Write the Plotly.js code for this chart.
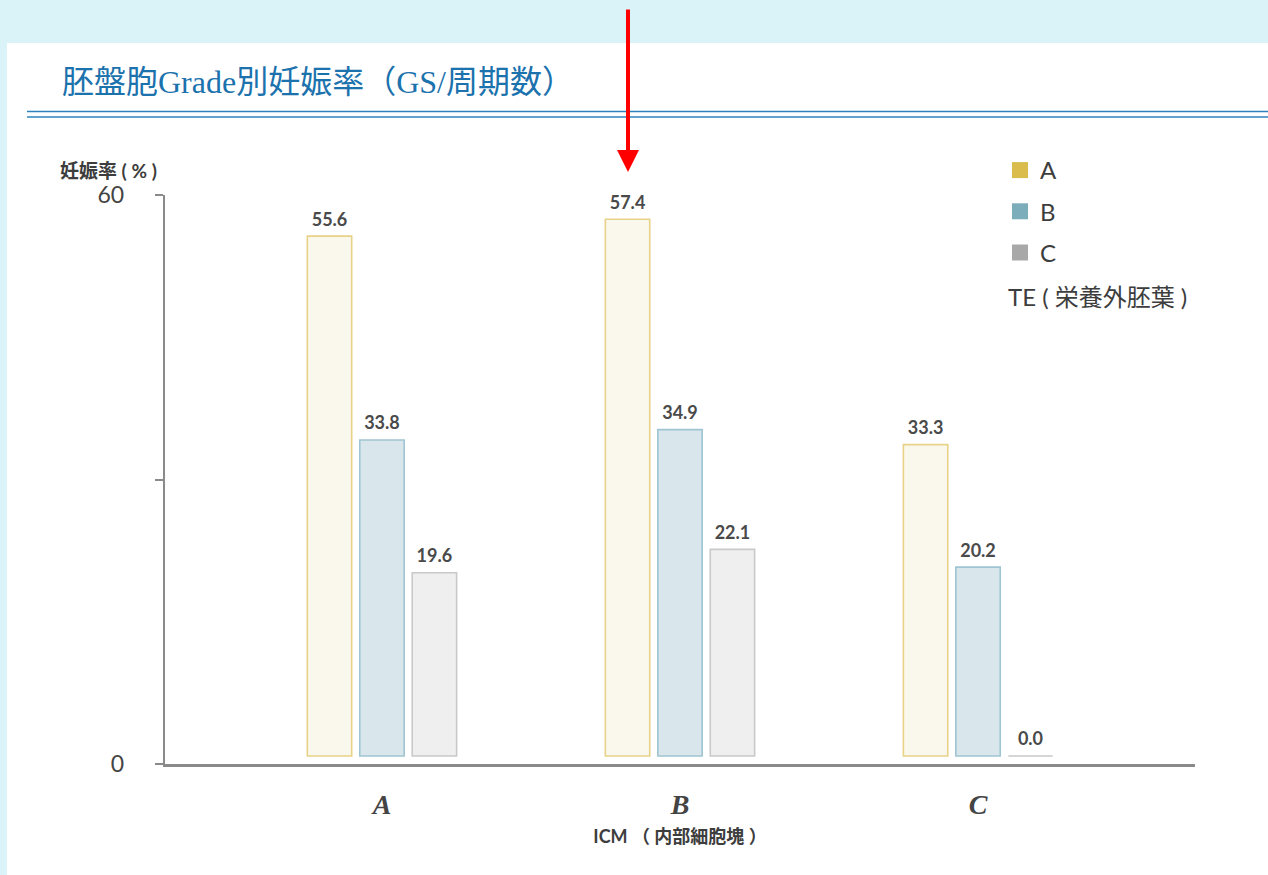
<!DOCTYPE html>
<html><head><meta charset="utf-8">
<script src="https://cdn.plot.ly/plotly-3.0.1.min.js"></script>
<style>html,body{margin:0;padding:0;background:#daf3f8;overflow:hidden}#chart{width:1268px;height:875px}</style>
</head><body><div id="chart"></div>
<script>
// ICM grade (x categories)
const icmCategories = ['A', 'B', 'C'];
const icmTickLabels = ['A', 'B', 'C'];
// TE grade series names
const teNames = ['A', 'B', 'C'];
// pregnancy rate (%) per TE grade
const teA = [55.6, 57.4, 33.3];
const teB = [33.8, 34.9, 20.2];
const teC = [19.6, 22.1, 0.0];
const yTickText = ['0', '', '60'];

const titleText = '胚盤胞Grade別妊娠率（GS/周期数）';
const yTitleText = '妊娠率 ( % )';
const xTitleText = 'ICM （ 内部細胞塊 ）';
const legendNote = 'TE ( 栄養外胚葉 )';

const seriesValues = [teA, teB, teC];
const fillColors = ['#faf8ec', '#d9e6eb', '#f0eff0'];
const lineColors = ['#e8d287', '#9fc5d2', '#c9c9c9'];
const swatchColors = ['#d9bc4c', '#7badbb', '#a8a8a8'];

const FONT = 'Lato, "Noto Sans CJK JP", sans-serif';
const yMin = -0.86;

const traces = [];
seriesValues.forEach((vals, i) => {
  traces.push({
    type: 'bar', x: icmCategories, y: vals, name: teNames[i],
    showlegend: false,
    marker: {color: fillColors[i], line: {color: lineColors[i], width: 1.6}},
    hoverinfo: 'x+y'
  });
});
// value labels above the bars
seriesValues.forEach((vals, i) => {
  traces.push({
    type: 'scatter', mode: 'markers+text', x: icmCategories, y: vals, name: teNames[i],
    showlegend: false, offsetgroup: 'lbl' + i, alignmentgroup: 'lbl',
    marker: {size: 8, opacity: 0, color: swatchColors[i]},
    texttemplate: '%{y:.1f}', textposition: 'top center', cliponaxis: false,
    textfont: {family: FONT, size: 18, color: '#4a4a4a', weight: 'bold'},
    hoverinfo: 'skip'
  });
});
teNames.forEach((n, i) => {
  traces.push({
    type: 'scatter', mode: 'markers', x: [null], y: [null], name: n,
    legendgroup: 'g' + i, showlegend: true,
    marker: {symbol: 'square', size: 20, color: swatchColors[i]}
  });
});

// plot area: x 165..1195 px, y 195..764 px
const L = 165, R = 1195, T = 195, B = 764;
const px = v => (v - L) / (R - L);
const py = v => (B - v) / (B - T);

const layout = {
  width: 1268, height: 875,
  margin: {l: L, r: 1268 - R, t: T, b: 875 - B},
  paper_bgcolor: '#daf3f8', plot_bgcolor: 'rgba(0,0,0,0)',
  font: {family: FONT, color: '#3d3d3d'},
  title: {text: titleText, x: 62 / 1268, xanchor: 'left', xref: 'container', y: 1 - 82 / 875, yanchor: 'middle', yref: 'container',
    font: {family: '"Liberation Serif", "Noto Sans CJK JP", serif', size: 32, color: '#1b72ad'}},
  barmode: 'group', bargap: 0.472, bargroupgap: 0.154,
  scattermode: 'group', scattergap: 0.472,
  xaxis: {
    type: 'category', range: [-0.728, 2.728], tickvals: icmCategories, ticktext: icmTickLabels,
    showline: true, linecolor: '#8a8a8a', linewidth: 2.5, showgrid: false, zeroline: false,
    ticks: '', ticklabelstandoff: 14,
    tickfont: {family: '"Liberation Serif", serif', size: 28, color: '#444444', style: 'italic', weight: 'bold'},
    title: {text: xTitleText, standoff: 12, font: {family: FONT, size: 18, color: '#3d3d3d', weight: 'bold'}},
    automargin: false, fixedrange: true
  },
  yaxis: {
    range: [yMin, 60], tickvals: [yMin, (yMin + 60) / 2, 60], ticktext: yTickText,
    showline: true, linecolor: '#8a8a8a', linewidth: 2.2, showgrid: false, zeroline: false,
    ticks: 'outside', ticklen: 8, tickwidth: 2, tickcolor: '#8a8a8a', ticklabelstandoff: 26,
    tickfont: {family: FONT, size: 23, color: '#444444'},
    automargin: false, fixedrange: true
  },
  legend: {x: px(1000), y: py(148), xanchor: 'left', yanchor: 'top', bgcolor: 'rgba(0,0,0,0)',
    font: {family: FONT, size: 24, color: '#3d3d3d'}, tracegroupgap: 7, itemsizing: 'trace'},
  shapes: [
    {type: 'rect', xref: 'paper', yref: 'paper', x0: px(7), x1: px(1268), y0: py(875), y1: py(43),
      fillcolor: '#ffffff', line: {width: 0}, layer: 'below'},
    {type: 'line', xref: 'paper', yref: 'paper', x0: px(27), x1: px(1268), y0: py(111.5), y1: py(111.5),
      line: {color: '#2f83bd', width: 1.6}},
    {type: 'line', xref: 'paper', yref: 'paper', x0: px(27), x1: px(1268), y0: py(117), y1: py(117),
      line: {color: '#2f83bd', width: 1.6}}
  ],
  annotations: [
    {text: yTitleText, xref: 'paper', yref: 'paper', x: px(58), y: py(170), xanchor: 'left', yanchor: 'middle',
      showarrow: false, font: {family: FONT, size: 19, color: '#3d3d3d', weight: 'bold'}},
    {text: legendNote, xref: 'paper', yref: 'paper', x: px(1006), y: py(296), xanchor: 'left', yanchor: 'middle',
      showarrow: false, font: {family: FONT, size: 24, color: '#3d3d3d'}},
    {text: '', xref: 'paper', yref: 'paper', x: px(628), y: py(172), ax: 0, ay: -164, axref: 'pixel', ayref: 'pixel',
      showarrow: true, arrowcolor: '#ff0000', arrowwidth: 4, arrowhead: 2, arrowsize: 1.1}
  ]
};

Plotly.newPlot('chart', traces, layout, {displayModeBar: false, staticPlot: true});
</script></body></html>
